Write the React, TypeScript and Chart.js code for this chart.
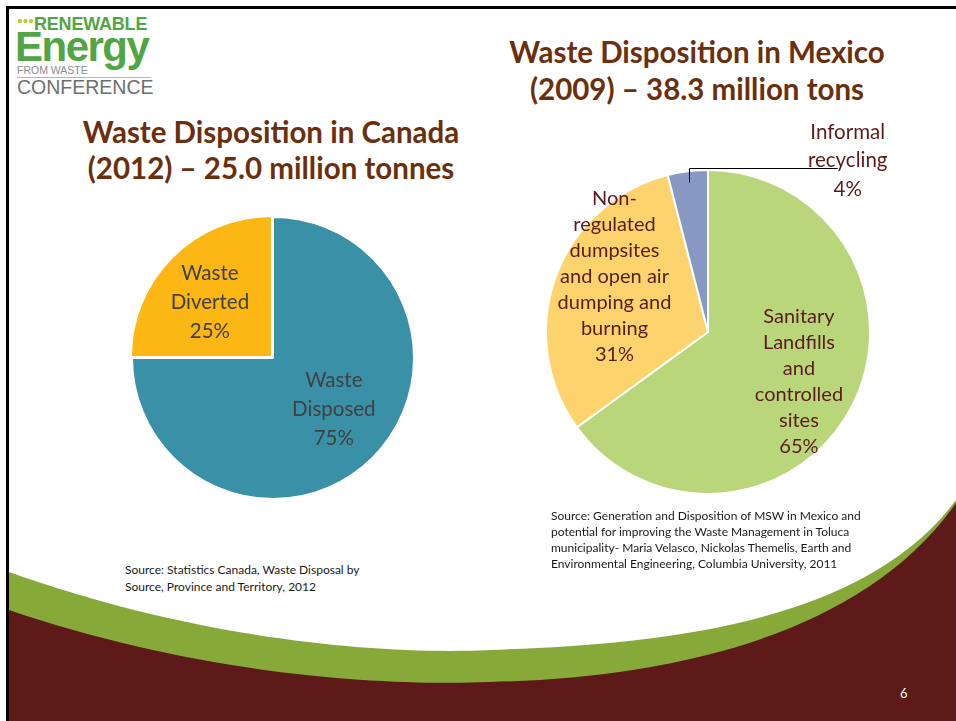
import React, { useEffect, useRef } from "react";
import { Chart, registerables } from "chart.js";

Chart.register(...registerables);

// ---- Data ----
const canadaCategories = ["Waste Disposed", "Waste Diverted"];
const canadaLabelLines = [["Waste", "Disposed"], ["Waste", "Diverted"]];
const canadaValues = [75, 25];
const canadaColors = ["#3A91A7", "#FDB714"];

const mexicoCategories = [
  "Sanitary Landfills and controlled sites",
  "Non-regulated dumpsites and open air dumping and burning",
  "Informal recycling",
];
const mexicoLabelLines = [
  ["Sanitary", "Landfills", "and", "controlled", "sites"],
  ["Non-", "regulated", "dumpsites", "and open air", "dumping and", "burning"],
  ["Informal", "recycling"],
];
const mexicoValues = [65, 31, 4];
const mexicoColors = ["#BAD67B", "#FDD36E", "#8799C3"];

const FONT = "Lato, 'Open Sans', sans-serif";

const sliceLabelPlugin = {
  id: "sliceLabels",
  afterDatasetsDraw(chart: any, _args: any, opts: any) {
    const { ctx } = chart;
    const meta = chart.getDatasetMeta(0);
    const ds = chart.data.datasets[0];
    meta.data.forEach((arc: any, i: number) => {
      const cfg = opts.items[i];
      if (!cfg) return;
      const p = arc.getProps(["x", "y", "startAngle", "endAngle", "outerRadius"], true);
      const mid = (p.startAngle + p.endAngle) / 2;
      const off = (Array.isArray(ds.offset) ? ds.offset[i] : 0) || 0;
      const cx = p.x + Math.cos(mid) * off;
      const cy = p.y + Math.sin(mid) * off;
      const r = p.outerRadius * cfg.r;
      const x = cx + Math.cos(mid) * r + (cfg.dx || 0);
      const y = cy + Math.sin(mid) * r + (cfg.dy || 0);
      const lines = [...opts.lines[i], `${ds.data[i]}%`];
      const lh = cfg.lineHeight;
      ctx.save();
      if (cfg.leader) {
        const sr = p.outerRadius * cfg.leader.r;
        const sx = cx + Math.cos(mid) * sr;
        const sy = cy + Math.sin(mid) * sr;
        const ey = y + cfg.leader.dy;
        const ex = x + cfg.leader.dx;
        ctx.strokeStyle = "#000";
        ctx.lineWidth = 1;
        ctx.beginPath();
        ctx.moveTo(Math.round(sx) + 0.5, sy);
        ctx.lineTo(Math.round(sx) + 0.5, Math.round(ey) + 0.5);
        ctx.lineTo(ex, Math.round(ey) + 0.5);
        ctx.stroke();
      }
      ctx.fillStyle = cfg.color;
      ctx.font = `${cfg.size}px ${FONT}`;
      ctx.textAlign = "center";
      ctx.textBaseline = "middle";
      const top = y - ((lines.length - 1) * lh) / 2;
      lines.forEach((t: string, k: number) => ctx.fillText(t, x, top + k * lh));
      ctx.restore();
    });
  },
};

function PieChart(props: {
  categories: string[];
  values: number[];
  colors: string[];
  lines: string[][];
  items: any[];
  radius: number;
  offset?: number[];
  width: number;
  height: number;
  left: number;
  top: number;
}) {
  const ref = useRef<HTMLCanvasElement>(null);
  useEffect(() => {
    if (!ref.current) return;
    const chart = new Chart(ref.current, {
      type: "pie",
      data: {
        labels: props.categories,
        datasets: [
          {
            data: props.values,
            backgroundColor: props.colors,
            borderColor: "#ffffff",
            borderWidth: 2,
            offset: props.offset || 0,
          } as any,
        ],
      },
      options: {
        responsive: false,
        animation: false,
        radius: props.radius,
        layout: { padding: 0 },
        plugins: {
          legend: { display: false },
          tooltip: { enabled: false },
          sliceLabels: { items: props.items, lines: props.lines },
        } as any,
      } as any,
      plugins: [sliceLabelPlugin],
    });
    return () => chart.destroy();
  }, []);
  return (
    <canvas
      ref={ref}
      width={props.width}
      height={props.height}
      style={{ position: "absolute", left: props.left, top: props.top, width: props.width, height: props.height }}
    />
  );
}

const abs = (s: React.CSSProperties): React.CSSProperties => ({ position: "absolute", whiteSpace: "nowrap", ...s });
const ARIAL = "'Liberation Sans', Arial, sans-serif";

export default function App() {
  const titleColor = "#6B2F0E";
  const logoGreen = "#52A544";
  return (
    <div
      style={{
        position: "fixed",
        left: 0,
        top: 0,
        width: 956,
        height: 721,
        background: "#ffffff",
        overflow: "hidden",
        fontFamily: FONT,
      }}
    >
      <svg width={956} height={721} style={{ position: "absolute", left: 0, top: 0 }}>
        <path
          d="M 9 572 C 200 640, 380 655, 490 650 C 640 645, 860 630, 956 500 L 956 721 L 9 721 Z"
          fill="#86A93A"
        />
        <path
          d="M 9 610 C 200 675, 380 686, 490 682 C 660 678, 860 640, 956 503 L 956 721 L 9 721 Z"
          fill="#5E1919"
        />
        <rect x={6} y={6} width={3} height={715} fill="#000" />
        <rect x={6} y={6} width={950} height={3} fill="#000" />
        <circle cx={20} cy={21} r={2.2} fill="#BFCB3A" />
        <circle cx={25.5} cy={21} r={2.2} fill="#BFCB3A" />
        <circle cx={31} cy={21} r={2.2} fill="#BFCB3A" />
        <rect x={17} y={77} width={134} height={1} fill="#B5B5B5" />
      </svg>

      {/* Logo */}
      <div style={abs({ left: 34, top: 15, fontFamily: ARIAL, fontWeight: 700, fontSize: 18, lineHeight: "18px", letterSpacing: -0.2, color: logoGreen })}>
        RENEWABLE
      </div>
      <div style={abs({ left: 15, top: 25.5, fontFamily: ARIAL, fontWeight: 700, fontSize: 42, lineHeight: "42px", letterSpacing: -1.5, color: logoGreen })}>
        Energy
      </div>
      <div style={abs({ left: 17, top: 65, fontFamily: ARIAL, fontSize: 10.5, lineHeight: "10.5px", color: "#8C8C8C" })}>
        FROM WASTE
      </div>
      <div style={abs({ left: 17, top: 78, fontFamily: ARIAL, fontSize: 19.5, lineHeight: "19.5px", color: "#6F6F6F" })}>
        CONFERENCE
      </div>

      {/* Titles */}
      <div style={abs({ left: 71, width: 400, top: 113.5, textAlign: "center", fontWeight: 700, fontSize: 29.5, lineHeight: "36px", color: titleColor })}>
        Waste Disposition in Canada
        <br />
        (2012) – 25.0 million tonnes
      </div>
      <div style={abs({ left: 497, width: 400, top: 33, textAlign: "center", fontWeight: 700, fontSize: 29.5, lineHeight: "37px", color: titleColor })}>
        Waste Disposition in Mexico
        <br />
        (2009) – 38.3 million tons
      </div>

      <PieChart
        categories={canadaCategories}
        values={canadaValues}
        colors={canadaColors}
        lines={canadaLabelLines}
        offset={[0, 6]}
        radius={141}
        width={360}
        height={360}
        left={93}
        top={178}
        items={[
          { r: 0.56, dx: 5, dy: -4, size: 20.5, lineHeight: 29, color: "#404040" },
          { r: 0.56, dx: -3, dy: 4, size: 20.5, lineHeight: 29, color: "#404040" },
        ]}
      />
      <PieChart
        categories={mexicoCategories}
        values={mexicoValues}
        colors={mexicoColors}
        lines={mexicoLabelLines}
        radius={162}
        width={400}
        height={460}
        left={508}
        top={102}
        items={[
          { r: 0.63, dx: 0, dy: 3, size: 20, lineHeight: 26, color: "#5C1B1B" },
          { r: 0.62, dx: 1, dy: -21, size: 20, lineHeight: 26, color: "#5C1B1B" },
          { r: 1.0, dx: 160, dy: -10.5, size: 20.5, lineHeight: 28.5, color: "#5C1B1B", leader: { r: 0.93, dx: -10, dy: 7 } },
        ]}
      />

      {/* Sources */}
      <div style={abs({ left: 125, top: 562, fontSize: 12, lineHeight: "16.5px", color: "#1A1A1A" })}>
        Source: Statistics Canada, Waste Disposal by
        <br />
        Source, Province and Territory, 2012
      </div>
      <div style={abs({ left: 551, top: 508, fontSize: 12, lineHeight: "16px", color: "#1A1A1A" })}>
        Source: Generation and Disposition of MSW in Mexico and
        <br />
        potential for improving the Waste Management in Toluca
        <br />
        municipality- Maria Velasco, Nickolas Themelis, Earth and
        <br />
        Environmental Engineering, Columbia University, 2011
      </div>

      <div style={abs({ left: 900, top: 684, fontSize: 13, lineHeight: "18px", color: "#ffffff" })}>6</div>
    </div>
  );
}
